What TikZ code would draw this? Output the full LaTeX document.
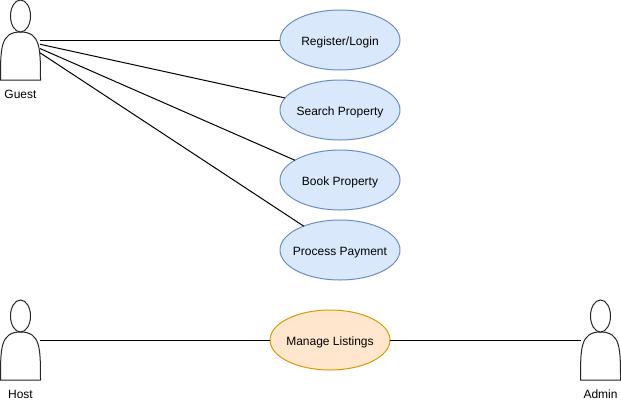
\documentclass[tikz,border=0pt]{standalone}
\usepackage{fontspec}
\setmainfont{Liberation Sans}
\usetikzlibrary{shapes.geometric}
\definecolor{c6C8EBF}{HTML}{6C8EBF}
\definecolor{cDAE8FC}{HTML}{DAE8FC}
\definecolor{cD79B00}{HTML}{D79B00}
\definecolor{cFFE6CC}{HTML}{FFE6CC}
\newcommand{\casetext}[1]{\makebox[0pt][c]{#1}}
\tikzset{
  x=1pt,y=-1pt,
  usecase/.style={ellipse,draw,line width=1pt,minimum width=120pt,minimum height=60pt,inner sep=0pt,outer sep=0pt,text height=10pt,text depth=0pt,font=\fontsize{12}{14}\selectfont},
  guestcase/.style={usecase,draw=c6C8EBF,fill=cDAE8FC},
  admincase/.style={usecase,draw=cD79B00,fill=cFFE6CC},
  actorbox/.style={rectangle,minimum width=39pt,minimum height=80pt,inner sep=0pt,outer sep=0pt},
  actorlabel/.style={inner sep=0pt,text height=10pt,text depth=0pt,font=\fontsize{12}{14}\selectfont},
  conn/.style={draw=black,line width=1pt},
  actorline/.style={draw=black!85,fill=white,line width=1pt},
  pics/actorfig/.style={code={
    \draw[actorline] (-20,40) .. controls (-20,8) and (-20,-8) .. (0,-8)
      .. controls (20,-8) and (20,8) .. (20,40) -- cycle;
    \draw[actorline] (0,-24) ellipse [x radius=10,y radius=16];
  }}
}
\begin{document}
\begin{tikzpicture}
\useasboundingbox (0,0) rectangle (621,402);
\pic at (20.5,40) {actorfig};
\pic at (20.5,340) {actorfig};
\pic at (600.5,340) {actorfig};
\node[actorbox] (guest) at (20.5,40) {};
\node[actorbox] (host) at (20.5,340) {};
\node[actorbox] (admin) at (600.5,340) {};
\node[actorlabel] (guestlabel) at (20.5,93.5) {Guest};
\node[actorlabel] (hostlabel) at (20.5,393.5) {Host};
\node[actorlabel] (adminlabel) at (600.5,393.5) {Admin};
\node[guestcase] (register) at (340,40) {\casetext{Register/Login}};
\node[guestcase] (search) at (340,110) {\casetext{Search Property}};
\node[guestcase] (book) at (340,180) {\casetext{Book Property}};
\node[guestcase] (payment) at (340,250) {\casetext{Process Payment}};
\node[admincase] (manage) at (330,340) {\casetext{Manage Listings}};
\draw[conn] (guest) -- (register);
\draw[conn] (guest) -- (search);
\draw[conn] (guest) -- (book);
\draw[conn] (guest) -- (payment);
\draw[conn] (host) -- (manage);
\draw[conn] (manage) -- (admin);
\end{tikzpicture}
\end{document}
